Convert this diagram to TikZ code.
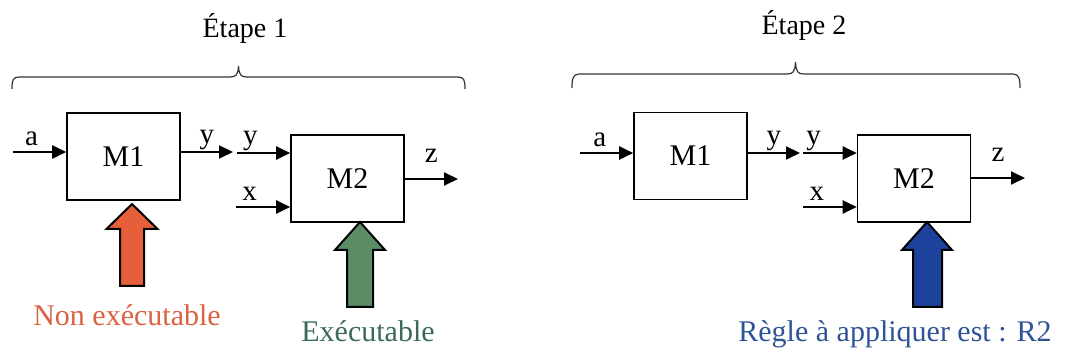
\documentclass[tikz,border=0pt]{standalone}
\usepackage{fontspec}
\setmainfont{Liberation Serif}
\usetikzlibrary{arrows.meta, positioning}

\definecolor{nonexec}{RGB}{216,98,66}
\definecolor{nonexecfill}{RGB}{229,96,58}
\definecolor{exec}{RGB}{58,106,92}
\definecolor{execfill}{RGB}{92,140,102}
\definecolor{rule}{RGB}{46,84,150}
\definecolor{rulefill}{RGB}{28,66,156}

\begin{document}
\begin{tikzpicture}[x=0.5pt, y=-0.5pt,
        block/.style={draw, line width=0.8pt, minimum width=56.5pt, minimum height=43.5pt, inner sep=0pt, font=\fontsize{15}{17}\selectfont},
        signal/.style={line width=1pt, -{Triangle[length=7pt, width=6.5pt]}},
        sig/.style={font=\fontsize{14.5}{16}\selectfont, inner sep=0.5pt, text depth=0pt},
        stage/.style={font=\fontsize{14}{16}\selectfont, anchor=base},
        group/.style={line width=0.6pt, black!80},
        bigarrow/.style={draw, line width=1pt, line join=miter},
        verdict/.style={font=\fontsize{15}{17}\selectfont, anchor=base}
    ]
        \useasboundingbox (0,0) rectangle (1067,357);

        % Etape 1
        \node[stage] (s1_title) at (245,38) {Étape 1};
        \draw[group] (12,89) .. controls (12,80) and (13,77) .. (19,77) -- (230,77)
            .. controls (236,77) and (238,75) .. (238.5,66) .. controls (239,75) and (241,77) .. (247,77)
            -- (458,77) .. controls (464,77) and (465,80) .. (465,89);

        \node[block] (s1_m1) at (123.5,156.5) {M1};
        \node[block] (s1_m2) at (347.5,178.5) {M2};

        \coordinate (s1_a) at (13,152);
        \coordinate (s1_yout) at (233,152);
        \coordinate (s1_yin) at (237,153);
        \coordinate (s1_x) at (236,207);
        \coordinate (s1_z) at (458,179);

        \draw[signal] (s1_a) -- node[sig, above=2pt, pos=0.35] {a} (s1_a -| s1_m1.west);
        \draw[signal] (s1_m1.east |- s1_yout) -- node[sig, above=3pt] {y} (s1_yout);
        \draw[signal] (s1_yin) -- node[sig, above=3pt, pos=0.25] {y} (s1_yin -| s1_m2.west);
        \draw[signal] (s1_x) -- node[sig, above=2pt, pos=0.25] {x} (s1_x -| s1_m2.west);
        \draw[signal] (s1_m2.east |- s1_z) -- node[sig, above=7pt] {z} (s1_z);

        % M1 non executable, M2 executable
        \draw[bigarrow, fill=nonexecfill] (132,204) -- (157.5,229) -- (144,229) -- (144,286)
            -- (120,286) -- (120,229) -- (106.5,229) -- cycle;
        \node[verdict, text=nonexec] (s1_no) at (127,326) {Non exécutable};

        \draw[bigarrow, fill=execfill] (360,222) -- (385,250) -- (373,250) -- (373,307)
            -- (347,307) -- (347,250) -- (335,250) -- cycle;
        \node[verdict, text=exec] (s1_yes) at (368,342) {Exécutable};

        % Etape 2
        \node[stage] (s2_title) at (804,35) {Étape 2};
        \draw[group] (572,88) .. controls (572,79) and (573,74) .. (579,74) -- (787,74)
            .. controls (793,74) and (795,72) .. (795.5,62) .. controls (796,72) and (798,74) .. (804,74)
            -- (1013,74) .. controls (1019,74) and (1020,79) .. (1020,88);

        \node[block] (s2_m1) at (690.5,156) {M1};
        \node[block] (s2_m2) at (914,178.5) {M2};

        \coordinate (s2_a) at (580,153);
        \coordinate (s2_yout) at (800,153);
        \coordinate (s2_yin) at (803,153);
        \coordinate (s2_x) at (803,207);
        \coordinate (s2_z) at (1025,178);

        \draw[signal] (s2_a) -- node[sig, above=2pt, pos=0.37] {a} (s2_a -| s2_m1.west);
        \draw[signal] (s2_m1.east |- s2_yout) -- node[sig, above=3pt] {y} (s2_yout);
        \draw[signal] (s2_yin) -- node[sig, above=3pt, pos=0.2] {y} (s2_yin -| s2_m2.west);
        \draw[signal] (s2_x) -- node[sig, above=2pt, pos=0.26] {x} (s2_x -| s2_m2.west);
        \draw[signal] (s2_m2.east |- s2_z) -- node[sig, above=7pt] {z} (s2_z);

        % rule chosen for M2
        \draw[bigarrow, fill=rulefill] (927,222) -- (952,250) -- (942,250) -- (942,307)
            -- (913,307) -- (913,250) -- (902,250) -- cycle;
        \node[verdict, text=rule] (s2_rule) at (895,342) {Règle à appliquer est : R2};

    \end{tikzpicture}
\end{document}
